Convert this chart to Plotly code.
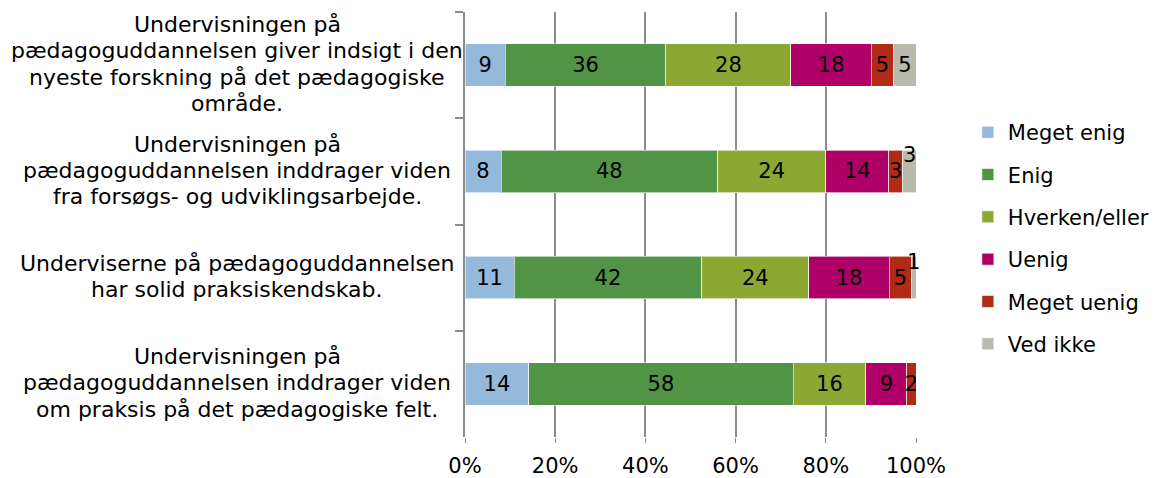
import plotly.graph_objects as go

categories = [
    "Undervisningen på<br>pædagoguddannelsen giver indsigt i den<br>nyeste forskning på det pædagogiske<br>område.",
    "Undervisningen på<br>pædagoguddannelsen inddrager viden<br>fra forsøgs- og udviklingsarbejde.",
    "Underviserne på pædagoguddannelsen<br>har solid praksiskendskab.",
    "Undervisningen på<br>pædagoguddannelsen inddrager viden<br>om praksis på det pædagogiske felt.",
]
series_names = ["Meget enig", "Enig", "Hverken/eller", "Uenig", "Meget uenig", "Ved ikke"]
meget_enig = [9, 8, 11, 14]
enig = [36, 48, 42, 58]
hverken = [28, 24, 24, 16]
uenig = [18, 14, 18, 9]
meget_uenig = [5, 3, 5, 2]
ved_ikke = [5, 3, 1, 0]
colors = ["#95B9DB", "#529446", "#8DA832", "#AE0066", "#B22A16", "#B9B9AE"]
x_ticks = [0, 20, 40, 60, 80, 100]
x_ticklabels = ["0%", "20%", "40%", "60%", "80%", "100%"]

FONT = "DejaVu Sans"
FS = 21
LABEL_FS = 22
LINE_H = 26.3
series = [meget_enig, enig, hverken, uenig, meget_uenig, ved_ikke]

fig = go.Figure()
for i, (name, vals, col) in enumerate(zip(series_names, series, colors)):
    texts = []
    for j, v in enumerate(vals):
        if name == "Ved ikke" and v < 4:
            texts.append("")
        else:
            texts.append(str(v))
    fig.add_trace(go.Bar(
        y=categories, x=vals, name=name, orientation="h",
        marker=dict(color=col, line=dict(color="rgba(255,255,255,0.6)", width=1)),
        text=texts, textposition="inside", insidetextanchor="middle",
        textangle=0, textfont=dict(family=FONT, size=FS, color="black"),
        legendgroup=name, hoverinfo="skip",
    ))

# small Ved ikke labels placed above the bar end, as in the original
for j, cat in enumerate(categories):
    v = ved_ikke[j]
    if 0 < v < 4:
        total = sum(s[j] for s in series)
        before = sum(s[j] for s in series[:-1])
        xc = (before + v / 2) / total * 100
        fig.add_annotation(x=xc, y=cat, xref="x", yref="y", text=str(v),
                           showarrow=False, yshift=16,
                           font=dict(family=FONT, size=FS, color="black"))

# category labels, centered multi-line (one annotation per line for tight spacing)
for cat in categories:
    lines = cat.split("<br>")
    n = len(lines)
    for k, line in enumerate(lines):
        fig.add_annotation(x=0, y=cat, xref="paper", yref="y", text=line,
                           showarrow=False, xanchor="center", yanchor="middle",
                           xshift=-228, yshift=((n - 1) / 2 - k) * LINE_H + 1,
                           font=dict(family=FONT, size=LABEL_FS, color="black"))

fig.update_layout(
    barmode="stack", barnorm="percent", bargap=0.6,
    width=1161, height=478,
    margin=dict(l=465, r=245, t=12, b=41, autoexpand=False),
    plot_bgcolor="white", paper_bgcolor="white",
    font=dict(family=FONT, size=FS, color="black"),
    uniformtext=dict(minsize=FS, mode="show"),
    legend=dict(x=1.115, y=0.468, xanchor="left", yanchor="middle",
                traceorder="grouped", tracegroupgap=12, itemwidth=30,
                font=dict(family=FONT, size=FS, color="black")),
    showlegend=True,
)
fig.update_xaxes(range=[0, 100], tickvals=x_ticks, ticktext=x_ticklabels,
                 showgrid=True, gridcolor="#8C8C8C", gridwidth=1.5,
                 ticks="outside", ticklen=5, tickcolor="#8C8C8C",
                 ticklabelstandoff=5,
                 showline=False, zeroline=False, automargin=False,
                 tickfont=dict(family=FONT, size=FS, color="black"))
fig.update_yaxes(autorange="reversed", showticklabels=False,
                 ticks="outside", tickson="boundaries", ticklen=8,
                 tickcolor="#8C8C8C", tickwidth=1.5, automargin=False,
                 showline=True, linecolor="#8C8C8C", linewidth=1.5,
                 showgrid=False)

fig.write_html("out.html", config={"displayModeBar": False},
               post_script="document.body.style.margin='0';document.body.style.overflow='hidden';")
